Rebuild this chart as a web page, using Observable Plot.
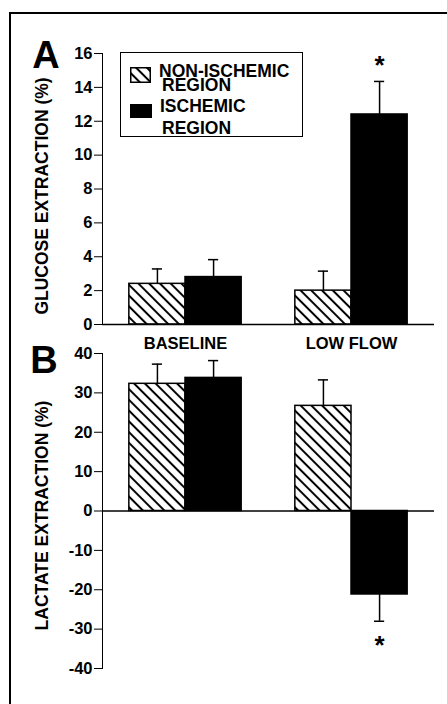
<!DOCTYPE html>
<html><head><meta charset="utf-8">
<script src="https://cdn.jsdelivr.net/npm/d3@7"></script>
<script src="https://cdn.jsdelivr.net/npm/@observablehq/plot@0.6"></script>
<style>
body{margin:0;background:#fff;}
#page{position:relative;width:447px;height:704px;overflow:hidden;font-family:"Liberation Sans",Arial,sans-serif;font-weight:bold;color:#000;}
#frame{position:absolute;left:9px;top:12px;width:460px;height:720px;border-top:2px solid #000;border-left:2px solid #000;}
.panel{position:absolute;left:0;}
#legend{position:absolute;left:120px;top:52px;width:183px;height:85px;box-sizing:border-box;border:1.5px solid #000;}
.lt{position:absolute;font-size:17.5px;line-height:13px;white-space:nowrap;}
.sw{position:absolute;}
</style></head><body>
<svg width="0" height="0" style="position:absolute">
<defs><pattern id="hatch" patternUnits="userSpaceOnUse" width="7.6" height="7.6" patternTransform="rotate(-45)">
<rect width="7.6" height="7.6" fill="#fff"/><line x1="3.8" y1="-1" x2="3.8" y2="8.6" stroke="#000" stroke-width="2"/></pattern></defs></svg>
<div id="page">
  <div id="frame"></div>
  <div id="panelA" class="panel" style="top:0"></div>
  <div id="panelB" class="panel" style="top:330px"></div>
  <div id="legend"></div>
</div>
<script>
const categories = ["BASELINE", "LOW FLOW"];
const regions = ["NON-ISCHEMIC", "ISCHEMIC"];
const legendLabels = [["NON-ISCHEMIC", "REGION"], ["ISCHEMIC", "REGION"]];

const glucoseNonIschemic = [2.4, 2.0];
const glucoseIschemic = [2.8, 12.4];
const glucoseErrNonIschemic = [0.88, 1.15];
const glucoseErrIschemic = [1.03, 1.95];
const glucoseSig = ["", "*"];

const lactateNonIschemic = [32.3, 26.7];
const lactateIschemic = [33.8, -21.2];
const lactateErrNonIschemic = [5.0, 6.6];
const lactateErrIschemic = [4.4, 6.8];
const lactateSig = ["", "*"];

const glucoseTicks = [0, 2, 4, 6, 8, 10, 12, 14, 16];
const lactateTicks = [-40, -30, -20, -10, 0, 10, 20, 30, 40];

function rows(non, isch, errNon, errIsch, sig) {
  return categories.flatMap((c, i) => [
    {category: c, region: regions[0], value: non[i], err: errNon[i], sig: ""},
    {category: c, region: regions[1], value: isch[i], err: errIsch[i], sig: sig[i]}
  ]).map(d => ({...d, end: d.value + Math.sign(d.value) * d.err, dir: Math.sign(d.value)}));
}

function panel({data, domain, ticks, title, letter, marginTop, height, marginBottom, fxAxis, titleDy, letterDx, letterDy}) {
  const first = [categories[0]];
  return Plot.plot({
    width: 447, height, marginTop, marginBottom, marginLeft: 102, marginRight: 13,
    style: {fontFamily: '"Liberation Sans", Arial, sans-serif', fontWeight: "bold", fontSize: "16.5px", background: "transparent", overflow: "visible", color: "#000"},
    fx: {domain: categories, paddingInner: 0, paddingOuter: 0, round: false, axis: fxAxis ? "bottom" : null, tickSize: 0, tickPadding: 13, label: null},
    x: {domain: regions, paddingInner: 0, paddingOuter: 0.478, round: false, axis: null},
    y: {domain, ticks, tickSize: 8, tickPadding: 2, line: true, label: null, tickFormat: d => String(d)},
    color: {domain: regions, range: ["url(#hatch)", "#000"]},
    marks: [
      Plot.barY(data, {fx: "category", x: "region", y: "value", fill: "region", stroke: "#000", strokeWidth: 1.5}),
      Plot.ruleY([0], {stroke: "#000", strokeWidth: 1.5}),
      Plot.ruleX(data, {fx: "category", x: "region", y1: "value", y2: "end", stroke: "#000", strokeWidth: 1.5}),
      Plot.tickY(data, {fx: "category", x: "region", y: "end", inset: 23, stroke: "#000", strokeWidth: 1.5}),
      Plot.text(data.filter(d => d.dir > 0), {fx: "category", x: "region", y: "end", text: "sig", dy: -16, fontSize: 26}),
      Plot.text(data.filter(d => d.dir < 0), {fx: "category", x: "region", y: "end", text: "sig", dy: 24, fontSize: 26}),
      Plot.text([title], {fx: first, frameAnchor: "left", textAnchor: "middle", lineAnchor: "middle", rotate: -90, dx: -60, dy: titleDy, fontSize: 17.5}),
      Plot.text([letter], {fx: first, frameAnchor: "top-left", textAnchor: "middle", lineAnchor: "middle", dx: letterDx, dy: letterDy, fontSize: 38})
    ]
  });
}

const glucose = rows(glucoseNonIschemic, glucoseIschemic, glucoseErrNonIschemic, glucoseErrIschemic, glucoseSig);
const lactate = rows(lactateNonIschemic, lactateIschemic, lactateErrNonIschemic, lactateErrIschemic, lactateSig);

document.getElementById("panelA").append(panel({
  data: glucose, domain: [0, 16], ticks: glucoseTicks, title: "GLUCOSE EXTRACTION (%)", letter: "A",
  marginTop: 53, height: 350, marginBottom: 26, fxAxis: true, titleDy: 7, letterDx: -56.5, letterDy: 2.4
}));
document.getElementById("panelB").append(panel({
  data: lactate, domain: [-40, 40], ticks: lactateTicks, title: "LACTATE EXTRACTION (%)", letter: "B",
  marginTop: 23, height: 358, marginBottom: 20, fxAxis: false, titleDy: 4.5, letterDx: -58.5, letterDy: 6.9
}));

// legend
const legend = document.getElementById("legend");
const swatches = [
  {fill: "url(#hatch)", left: 129, top: 66, w: 21, h: 16},
  {fill: "#000", left: 129, top: 103, w: 22, h: 14}
];
const textPos = [[[158, 64], [161, 77.5]], [[159, 99], [161, 121]]];
regions.forEach((r, i) => {
  const s = swatches[i];
  const svg = document.createElementNS("http://www.w3.org/2000/svg", "svg");
  svg.setAttribute("class", "sw");
  svg.setAttribute("width", s.w); svg.setAttribute("height", s.h);
  svg.style.left = (s.left - 120) + "px"; svg.style.top = (s.top - 52) + "px";
  svg.innerHTML = `<rect x="0.75" y="0.75" width="${s.w - 1.5}" height="${s.h - 1.5}" fill="${s.fill}" stroke="#000" stroke-width="1.5"/>`;
  legend.append(svg);
  legendLabels[i].forEach((t, j) => {
    const div = document.createElement("div");
    div.className = "lt";
    div.textContent = t;
    div.style.left = (textPos[i][j][0] - 120) + "px";
    div.style.top = (textPos[i][j][1] - 52) + "px";
    legend.append(div);
  });
});
</script>
</body></html>
